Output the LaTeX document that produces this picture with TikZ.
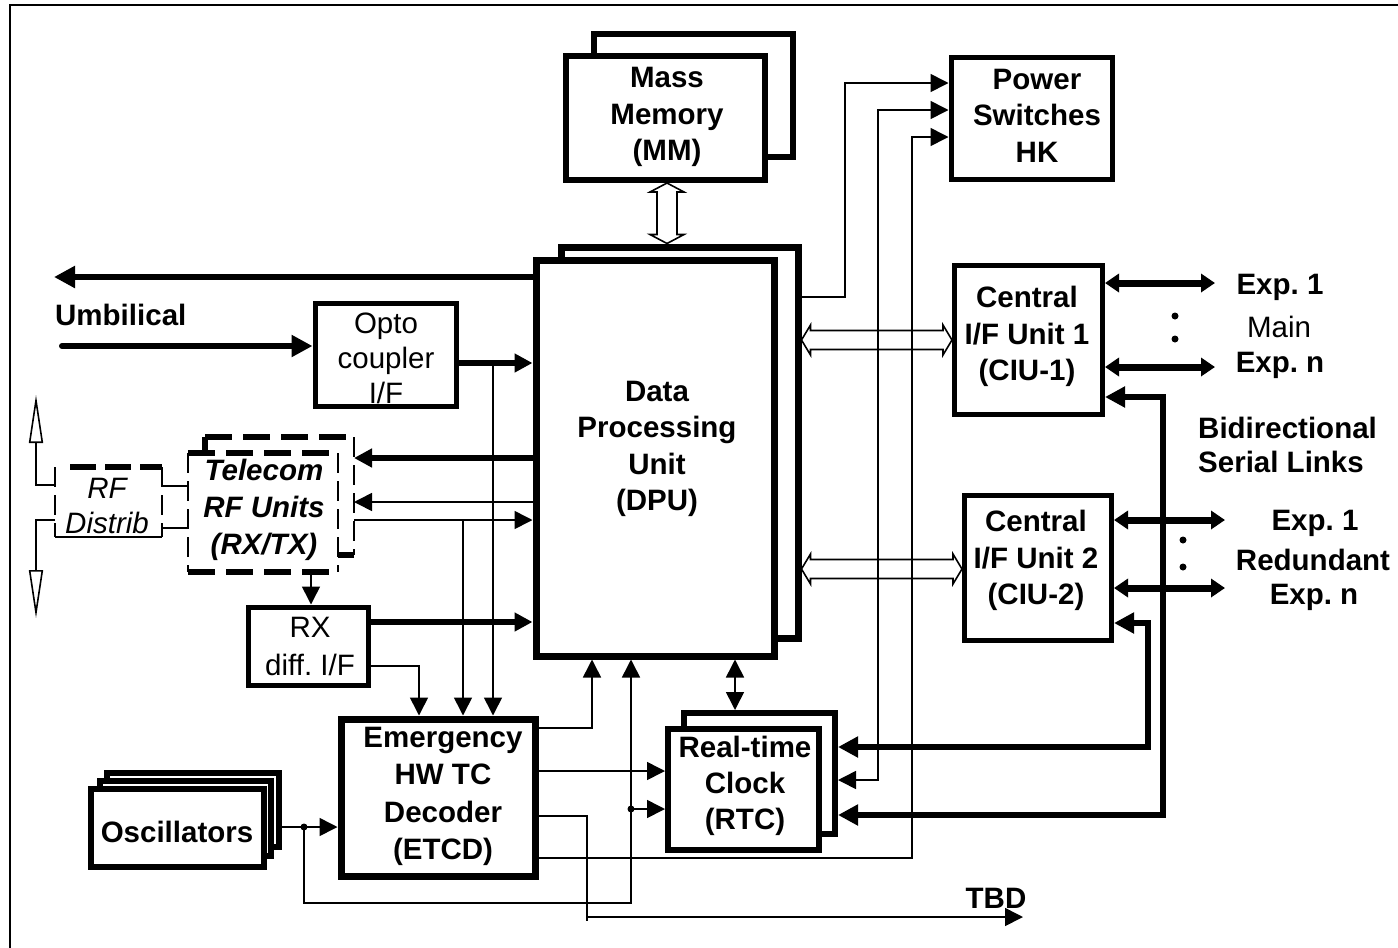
\documentclass[tikz,border=0pt]{standalone}
\usepackage{fontspec}
\setmainfont{Liberation Sans}
\usetikzlibrary{arrows.meta,calc}
\newcommand\myfs{\fontsize{29.5}{36.5}\selectfont}
% hollow double-headed bus arrows
\newcommand\hbus[2]{%
  \draw[line width=1.6pt, fill=white, line join=miter]
    (#1) -- ($(#1)+(9,-15)$) -- ($(#1)+(9,-9.5)$) -- ($(#2)+(-9,-9.5)$) -- ($(#2)+(-9,-15)$)
    -- (#2) -- ($(#2)+(-9,15)$) -- ($(#2)+(-9,9.5)$) -- ($(#1)+(9,9.5)$) -- ($(#1)+(9,15)$) -- cycle;}
\newcommand\vbus[2]{%
  \draw[line width=1.6pt, fill=white, line join=miter]
    (#1) -- ($(#1)+(-17,9)$) -- ($(#1)+(-10,9)$) -- ($(#2)+(-10,-9)$) -- ($(#2)+(-17,-9)$)
    -- (#2) -- ($(#2)+(17,-9)$) -- ($(#2)+(10,-9)$) -- ($(#1)+(10,9)$) -- ($(#1)+(17,9)$) -- cycle;}
\begin{document}
\frenchspacing
\begin{tikzpicture}[x=1pt,y=-1pt,
  box/.style={draw, line width=6pt, fill=white, inner sep=0pt, line join=miter},
  ghost/.style={inner sep=0pt, outer sep=0pt},
  txt/.style={inner sep=0pt, align=center, font=\myfs\bfseries},
  rtxt/.style={inner sep=0pt, align=center, font=\myfs},
  thinl/.style={line width=1.6pt},
  thickl/.style={line width=6pt, line join=miter},
  arr/.style={-{Triangle[length=18pt,width=18pt]}},
  barr/.style={{Triangle[length=18pt,width=18pt]}-{Triangle[length=18pt,width=18pt]}},
  arrT/.style={-{Triangle[length=21pt,width=21pt]}},
  barrT/.style={{Triangle[length=20pt,width=20pt]}-{Triangle[length=20pt,width=20pt]}},
  exparr/.style={line width=7pt,{Triangle[length=14pt,width=18pt]}-{Triangle[length=14pt,width=18pt]}},
  openarr/.style={thinl, -{Triangle[open,length=48pt,width=14pt]}},
  dot/.style={circle, fill, inner sep=0pt, minimum size=7pt},
  thickdash/.style={line width=6pt, dash pattern=on 27pt off 11pt},
  thindash/.style={line width=1.6pt, dash pattern=on 20pt off 8pt},
]
\useasboundingbox (0,0) rectangle (1398,948);
% frame
\draw[line width=2pt] (10,948) -- (10,5) -- (1398,5);

% ---------- boxes ----------
% Mass memory
\node[box, minimum width=199pt, minimum height=123pt] (mmb) at (693.5,95.5) {};
\node[box, minimum width=199pt, minimum height=124pt] (mmf) at (665.5,118) {};
\node[txt] at (667,117) {Mass\\Memory\\(MM)};

% DPU
\node[box, line width=7pt, minimum width=237pt, minimum height=391pt] (dpub) at (679.5,442.5) {};
\node[box, line width=7pt, minimum width=238pt, minimum height=396pt] (dpuf) at (655,458) {};
\node[txt] at (657,449) {Data\\Processing\\Unit\\(DPU)};

% Power switches
\node[box, line width=5pt, minimum width=161pt, minimum height=122pt] (ps) at (1031.5,118) {};
\node[txt] at (1037,115.5) {Power\\Switches\\HK};

% CIU-1, CIU-2
\node[box, line width=5pt, minimum width=148pt, minimum height=149pt] (ciu1) at (1028.5,340) {};
\node[txt] at (1027,336.5) {Central\\I/F Unit 1\\(CIU-1)};
\node[box, line width=5pt, minimum width=147pt, minimum height=145pt] (ciu2) at (1038,568) {};
\node[txt] at (1036,560.5) {Central\\I/F Unit 2\\(CIU-2)};

% Opto coupler
\node[box, line width=5pt, minimum width=141pt, minimum height=103pt] (opto) at (385.5,354.5) {};
\node[rtxt, font=\fontsize{29.5}{35}\selectfont] at (386,358) {Opto\\coupler\\I/F};

% Telecom RF units
\node[ghost, minimum width=149pt, minimum height=118pt] (telb) at (279.5,496) {};
\draw[thickdash] (telb.north west) -- (telb.north east);
\draw[thindash] (telb.north east) -- (telb.south east);
\draw[thickl] (telb.south east) -- ++(-16,0);
\draw[thickl] (telb.north west) -- ++(0,16);
\node[ghost, fill=white, minimum width=150pt, minimum height=119pt] (telf) at (263,512.5) {};
\draw[thickdash] (telf.north west) -- (telf.north east);
\draw[thickdash] (telf.south west) -- (telf.south east);
\draw[thindash] (telf.north west) -- (telf.south west);
\draw[thindash] (telf.north east) -- (telf.south east);
\node[txt, font=\fontsize{29.5}{37}\selectfont\bfseries\itshape] at (264,510) {Telecom\\RF Units\\(RX/TX)};

% RF distrib
\node[ghost, minimum width=107pt, minimum height=70pt] (rf) at (108.5,502) {};
\draw[line width=6pt, dash pattern=on 26pt off 9pt] ([xshift=15pt]rf.north west) -- (rf.north east);
\draw[thindash] (rf.north west) -- (rf.south west);
\draw[thindash] (rf.north east) -- (rf.south east);
\draw[thinl] (rf.south west) -- (rf.south east);
\node[rtxt, font=\fontsize{29.5}{35}\selectfont\itshape] at (107,505.5) {RF\\Distrib};

% RX diff I/F
\node[box, line width=5pt, minimum width=120pt, minimum height=78pt] (rx) at (308,646) {};
\node[rtxt, font=\fontsize{29.5}{38}\selectfont] at (310,646) {RX\\diff. I/F};

% ETCD
\node[box, line width=7pt, minimum width=194pt, minimum height=157pt] (etcd) at (438,797.5) {};
\node[txt, font=\fontsize{29.5}{37.5}\selectfont\bfseries] at (443,796.5) {Emergency\\HW TC\\Decoder\\(ETCD)};

% RTC
\node[box, minimum width=151pt, minimum height=121pt] (rtcb) at (759.5,773.5) {};
\node[box, minimum width=151pt, minimum height=121pt] (rtcf) at (743.5,789.5) {};
\node[txt, font=\fontsize{29.5}{36}\selectfont\bfseries] at (745,786) {Real-time\\Clock\\(RTC)};

% Oscillators
\node[box, minimum width=172pt, minimum height=74pt] (osc3) at (193,810) {};
\node[box, minimum width=171pt, minimum height=75pt] (osc2) at (185.5,818.5) {};
\node[box, minimum width=173pt, minimum height=78pt] (osc1) at (177.5,828) {};
\node[txt] at (177,832) {Oscillators};

% ---------- free ends ----------
\coordinate (umbout) at (54,277);
\coordinate (umbin) at (62,346);
\coordinate (antup) at (36,395);
\coordinate (antdn) at (36,618);
\coordinate (tbdend) at (1023,917);
\coordinate (e11) at (1215,283);
\coordinate (e1n) at (1215,367);
\coordinate (e21) at (1225,520);
\coordinate (e2n) at (1225,588);

% ---------- hollow buses ----------
\vbus{mmf.south -| 667,0}{dpub.north -| 667,0}
\hbus{dpub.east |- 0,340}{ciu1.west |- 0,340}
\hbus{dpub.east |- 0,569}{ciu2.west |- 0,569}

% ---------- connectors ----------
\draw[thickl,arrT] (dpuf.west |- 0,277) -- (umbout);
\draw[thickl,arrT,line cap=round] (umbin) -- (opto.west |- 0,346);
\draw[thickl,arr] (opto.east |- 0,363) -- (dpuf.west |- 0,363);
\draw[thinl,arr] (493,363) -- (etcd.north -| 493,0);
\draw[thickl,arr] (dpuf.west |- 0,458) -- (telb.east |- 0,458);
\draw[thinl,arr] (dpuf.west |- 0,502) -- (telb.east |- 0,502);
\draw[thinl,arr] (telb.east |- 0,520) -- (dpuf.west |- 0,520);
\draw[thinl,arr] (463,520) -- (etcd.north -| 463,0);
\draw[thinl,arr] (telf.south -| 311,0) -- (rx.north -| 311,0);
\draw[thickl,arr] (rx.east |- 0,622) -- (dpuf.west |- 0,622);
\draw[thinl,arr] (rx.east |- 0,666) -| (etcd.north -| 419,0);

\draw[thinl] (rf.east |- 0,486) -- (telf.west |- 0,486);
\draw[thinl] (rf.east |- 0,528) -- (telf.west |- 0,528);
\draw[openarr] (rf.west |- 0,485) -| (antup);
\draw[openarr] (rf.west |- 0,520) -| (antdn);

\draw[thinl,arr] (dpub.east |- 0,297) -- (845,297) -- (845,83) -- (ps.west |- 0,83);
\draw[thinl,barr] (ps.west |- 0,110) -- (878,110) -- (878,780) -- (rtcb.east |- 0,780);
\draw[thinl,arr] (etcd.east |- 0,858) -- (912,858) -- (912,137) -- (ps.west |- 0,137);

\draw[exparr] (ciu1.east |- 0,283) -- (e11);
\draw[exparr] (ciu1.east |- 0,367) -- (e1n);
\draw[exparr] (ciu2.east |- 0,520) -- (e21);
\draw[exparr] (ciu2.east |- 0,588) -- (e2n);
\draw[thickl,barrT] (ciu1.east |- 0,397) -- (1163,397) -- (1163,815) -- (rtcb.east |- 0,815);
\draw[thickl,barrT] (ciu2.east |- 0,623) -- (1148,623) -- (1148,747) -- (rtcb.east |- 0,747);

\draw[thinl,barr] (dpuf.south -| 735,0) -- (rtcb.north -| 735,0);
\draw[thinl,arr] (etcd.east |- 0,728) -| (dpuf.south -| 592,0);
\draw[thinl,arr] (etcd.east |- 0,771) -- (rtcf.west |- 0,771);
\draw[thinl,arr] (etcd.east |- 0,816) -| (587,917) -- (tbdend);
\draw[thinl] (587,917) -- (587,921);
\draw[thinl,arr] (osc3.east |- 0,827) -- (etcd.west |- 0,827);
\node[dot] (d1) at (304,827) {};
\node[dot] (d2) at (631,809) {};
\draw[thinl,arr] (d1.center) |- (631,903) -- (dpuf.south -| 631,0);
\draw[thinl,arr] (d2.center) -- (rtcf.west |- 0,809);

% ---------- labels ----------
\node[txt, anchor=west] (umb) at (55,315) {Umbilical};
\node[txt] (tbd) at (996,898) {TBD};
\node[txt] at (1280,287) {Exp. 1};
\node[rtxt] at (1279,327) {Main};
\node[txt] at (1280,365) {Exp. n};
\node[dot] at (1175,316) {};
\node[dot] at (1175,339) {};
\node[txt, anchor=west] at (1198,428) {Bidirectional};
\node[txt, anchor=west] at (1198,462) {Serial Links};
\node[txt] at (1315,523) {Exp. 1};
\node[txt] at (1313,560) {Redundant};
\node[txt] at (1314,597) {Exp. n};
\node[dot] at (1183,540) {};
\node[dot] at (1183,567) {};
\end{tikzpicture}
\end{document}
